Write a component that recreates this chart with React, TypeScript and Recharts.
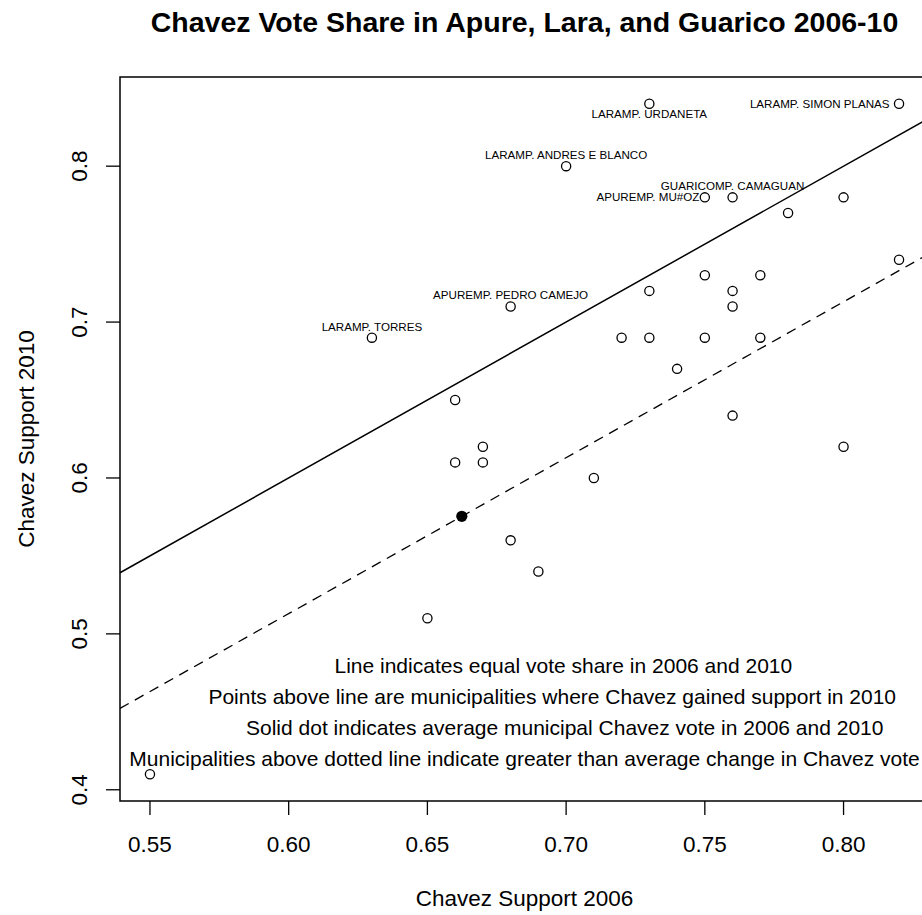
import { ReferenceArea, ReferenceLine, Scatter, ScatterChart, XAxis, YAxis } from 'recharts'

// municipal Chavez vote share
const support2006 = [
  0.73, 0.82, 0.7, 0.75, 0.76, 0.8, 0.78, 0.82, 0.75, 0.77, 0.73, 0.76, 0.68, 0.76, 0.63, 0.72,
  0.73, 0.75, 0.77, 0.74, 0.66, 0.76, 0.67, 0.8, 0.66, 0.67, 0.71, 0.68, 0.69, 0.65, 0.55
]
const support2010 = [
  0.84, 0.84, 0.8, 0.78, 0.78, 0.78, 0.77, 0.74, 0.73, 0.73, 0.72, 0.72, 0.71, 0.71, 0.69, 0.69,
  0.69, 0.69, 0.69, 0.67, 0.65, 0.64, 0.62, 0.62, 0.61, 0.61, 0.6, 0.56, 0.54, 0.51, 0.41
]

// labelled municipalities (index into the arrays above) and R-style text position
const labelNames = [
  'LARAMP. URDANETA',
  'LARAMP. SIMON PLANAS',
  'LARAMP. ANDRES E BLANCO',
  'APUREMP. MU#OZ',
  'GUARICOMP. CAMAGUAN',
  'APUREMP. PEDRO CAMEJO',
  'LARAMP. TORRES'
]
const labelIndex = [0, 1, 2, 3, 4, 12, 14]
const labelPos = ['below', 'left', 'above', 'leftTight', 'above', 'above', 'above']

// average municipal vote (solid dot)
const avg2006 = 0.6624
const avg2010 = 0.5754

const noteLines = [
  'Line indicates equal vote share in 2006 and 2010',
  'Points above line are municipalities where Chavez gained support in 2010',
  'Solid dot indicates average municipal Chavez vote in 2006 and 2010',
  'Municipalities above dotted line indicate greater than average change in Chavez vote'
]
const noteX = [0.699, 0.695, 0.6995, 0.685]
const noteY = [0.48, 0.46, 0.44, 0.42]

const xTicks = [0.55, 0.6, 0.65, 0.7, 0.75, 0.8]
const yTicks = [0.4, 0.5, 0.6, 0.7, 0.8]

const FONT = '"Liberation Sans", Arial, Helvetica, sans-serif'

// R pads the data range by 4% on each side
function pad(vals: number[]): [number, number] {
  const lo = Math.min(...vals)
  const hi = Math.max(...vals)
  const d = (hi - lo) * 0.04
  return [lo - d, hi + d]
}
const xDomain = pad(support2006)
const yDomain = pad(support2010)
const meanChange = avg2010 - avg2006

const points = support2006.map((x, i) => ({ x, y: support2010[i] }))
const labelled = labelIndex.map((idx, i) => ({
  x: support2006[idx],
  y: support2010[idx],
  name: labelNames[i],
  pos: labelPos[i]
}))
const notes = noteLines.map((text, i) => ({ x: noteX[i], y: noteY[i], text }))

const OpenCircle = (p: any) => (
  <circle cx={p.cx} cy={p.cy} r={4.6} fill="none" stroke="#000" strokeWidth={1.3} />
)

const SolidDot = (p: any) => <circle cx={p.cx} cy={p.cy} r={5.6} fill="#000" />

const PointLabel = (p: any) => {
  const { cx, cy, payload } = p
  let x = cx
  let y = cy
  let anchor: 'middle' | 'end' = 'middle'
  if (payload.pos === 'above') y = cy - 7
  else if (payload.pos === 'below') y = cy + 14.5
  else {
    anchor = 'end'
    x = cx - (payload.pos === 'leftTight' ? 5.5 : 9.5)
    y = cy + 4
  }
  return (
    <text x={x} y={y} textAnchor={anchor} fontSize={11.6} fill="#000">
      {payload.name}
    </text>
  )
}

const NoteText = (p: any) => (
  <text x={p.cx} y={p.cy + 7.5} textAnchor="middle" fontSize={21} fill="#000">
    {p.payload.text}
  </text>
)

const YTick = (p: any) => (
  <text
    x={p.x}
    y={p.y}
    transform={`rotate(-90, ${p.x}, ${p.y})`}
    textAnchor="middle"
    fontSize={22.5}
    fill="#000"
  >
    {p.payload.value.toFixed(1)}
  </text>
)

export default function App() {
  return (
    <div style={{ position: 'relative', width: 922, height: 915, overflow: 'hidden', fontFamily: FONT, background: '#fff' }}>
      <style>{'body{margin:0}'}</style>
      <ScatterChart width={940} height={915} margin={{ top: 77, right: 11, bottom: 0, left: 0 }}>
        <XAxis
          type="number"
          dataKey="x"
          domain={xDomain}
          ticks={xTicks}
          interval={0}
          allowDataOverflow
          axisLine={false}
          tickLine={{ stroke: '#000', strokeWidth: 1.3 }}
          tickSize={14}
          tickMargin={21}
          height={114}
          tick={{ fill: '#000', fontSize: 22.5 }}
          tickFormatter={(v: number) => v.toFixed(2)}
        />
        <YAxis
          type="number"
          dataKey="y"
          domain={yDomain}
          ticks={yTicks}
          interval={0}
          allowDataOverflow
          axisLine={false}
          tickLine={{ stroke: '#000', strokeWidth: 1.3 }}
          tickSize={14}
          tickMargin={19}
          width={120}
          tick={<YTick />}
        />
        <ReferenceArea
          x1={xDomain[0]}
          x2={xDomain[1]}
          y1={yDomain[0]}
          y2={yDomain[1]}
          fill="none"
          fillOpacity={0}
          stroke="#000"
          strokeWidth={1.5}
        />
        <ReferenceLine
          segment={[
            { x: xDomain[0], y: xDomain[0] },
            { x: xDomain[1], y: xDomain[1] }
          ]}
          stroke="#000"
          strokeWidth={1.5}
          ifOverflow="visible"
        />
        <ReferenceLine
          segment={[
            { x: xDomain[0], y: xDomain[0] + meanChange },
            { x: xDomain[1], y: xDomain[1] + meanChange }
          ]}
          stroke="#000"
          strokeWidth={1.3}
          strokeDasharray="10 7"
          ifOverflow="visible"
        />
        <Scatter data={points} shape={OpenCircle} isAnimationActive={false} />
        <Scatter data={labelled} shape={PointLabel} isAnimationActive={false} />
        <Scatter data={[{ x: avg2006, y: avg2010 }]} shape={SolidDot} isAnimationActive={false} />
        <Scatter data={notes} shape={NoteText} isAnimationActive={false} />
      </ScatterChart>
      <svg width={922} height={915} style={{ position: 'absolute', left: 0, top: 0, pointerEvents: 'none' }}>
        <text x={524.5} y={32} textAnchor="middle" fontSize={28.5} fontWeight="bold" fill="#000">
          Chavez Vote Share in Apure, Lara, and Guarico 2006-10
        </text>
        <text x={524.5} y={906} textAnchor="middle" fontSize={22.5} fill="#000">
          Chavez Support 2006
        </text>
        <text x={33.5} y={439} transform="rotate(-90, 33.5, 439)" textAnchor="middle" fontSize={22.5} fill="#000">
          Chavez Support 2010
        </text>
      </svg>
    </div>
  )
}
